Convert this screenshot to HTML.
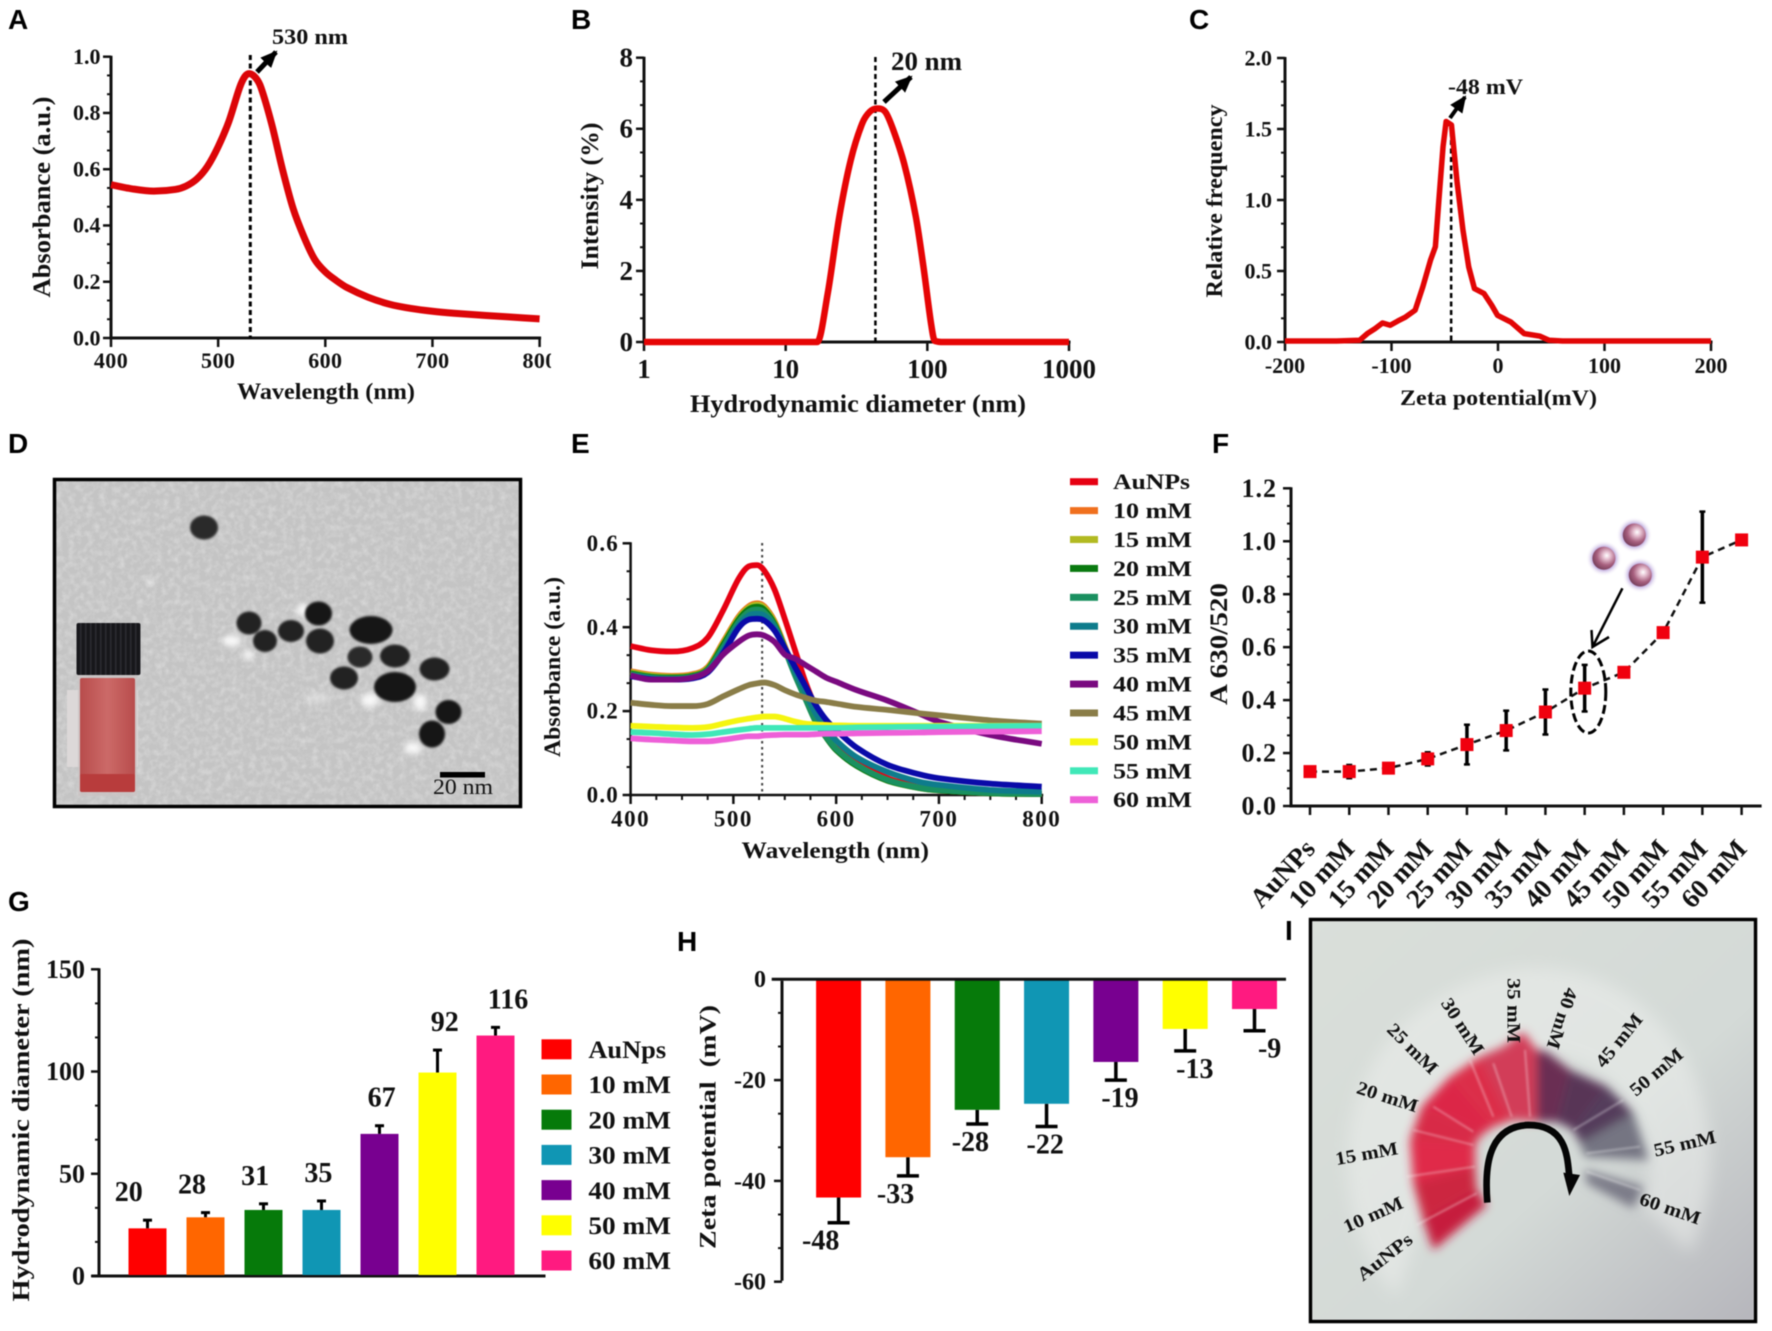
<!DOCTYPE html>
<html lang="en">
<head>
<meta charset="utf-8">
<title>Gold nanoparticle characterisation figure</title>
<style>
html,body{margin:0;padding:0;background:#fff;}
svg{display:block;filter:blur(0.45px);}
text{font-family:"Liberation Serif",serif;font-weight:bold;fill:#111;white-space:pre;}
.pl{font-family:"Liberation Sans",sans-serif;font-size:28px;fill:#000;}
</style>
</head>
<body>
<svg id="fig" xmlns="http://www.w3.org/2000/svg" width="1772" height="1331" viewBox="0 0 1772 1331">
<defs>
<marker id="ah" markerUnits="userSpaceOnUse" markerWidth="17" markerHeight="15" refX="15" refY="7.5" orient="auto"><polygon points="0,0 17,7.5 0,15" fill="#000"/></marker>
<radialGradient id="sph" cx="0.62" cy="0.38" r="0.7"><stop offset="0" stop-color="#fff"/><stop offset="0.22" stop-color="#e8c4d4"/><stop offset="0.6" stop-color="#a8607f"/><stop offset="1" stop-color="#6f3a55"/></radialGradient>
<radialGradient id="halo"><stop offset="0.62" stop-color="#bba6dc"/><stop offset="1" stop-color="#fff" stop-opacity="0"/></radialGradient>
<linearGradient id="photoBg" x1="0" y1="0" x2="1" y2="1"><stop offset="0" stop-color="#dadfda"/><stop offset="0.6" stop-color="#d4dad7"/><stop offset="1" stop-color="#b6b6bc"/></linearGradient>
<linearGradient id="liquid" x1="0" y1="0" x2="1" y2="0"><stop offset="0" stop-color="#b84c4c"/><stop offset="0.5" stop-color="#cc6a68"/><stop offset="1" stop-color="#b84c4c"/></linearGradient>
<pattern id="capRidges" patternUnits="userSpaceOnUse" width="5" height="10"><rect width="5" height="10" fill="#17171b"/><rect width="1.5" height="10" fill="#2c2c32"/></pattern>
<filter id="noise" x="0" y="0" width="100%" height="100%"><feTurbulence type="fractalNoise" baseFrequency="0.16" numOctaves="3" seed="4"/><feColorMatrix values="0 0 0 0 1  0 0 0 0 1  0 0 0 0 1  1.8 0 0 0 -0.7"/></filter>
<filter id="b1"><feGaussianBlur stdDeviation="1"/></filter>
<filter id="b3"><feGaussianBlur stdDeviation="3"/></filter>
<filter id="b14" x="-30%" y="-30%" width="160%" height="160%"><feGaussianBlur stdDeviation="14"/></filter>
<filter id="b24" x="-30%" y="-30%" width="160%" height="160%"><feGaussianBlur stdDeviation="24"/></filter>
<clipPath id="clipA"><rect x="0" y="0" width="551" height="420"/></clipPath>
<clipPath id="clipD"><rect x="55" y="480" width="465" height="326"/></clipPath>
<clipPath id="clipI"><rect x="1311" y="920" width="444" height="401"/></clipPath>
</defs>
<rect width="1772" height="1331" fill="#fff"/>

<text class="pl" x="8" y="29">A</text>
<text class="pl" x="571" y="29">B</text>
<text class="pl" x="1189" y="29">C</text>
<text class="pl" x="8" y="453">D</text>
<text class="pl" x="571" y="453">E</text>
<text class="pl" x="1212" y="453">F</text>
<text class="pl" x="8" y="911">G</text>
<text class="pl" x="677" y="951">H</text>
<text class="pl" x="1285" y="940">I</text>

<!-- Panel A -->
<g id="panelA" clip-path="url(#clipA)"></g>
<text x="237" y="399" font-size="23" textLength="178" lengthAdjust="spacingAndGlyphs">Wavelength (nm)</text>
<text x="50" y="197" font-size="25" text-anchor="middle" textLength="201" lengthAdjust="spacingAndGlyphs" transform="rotate(-90 50 197)">Absorbance (a.u.)</text>
<line x1="257" y1="72" x2="276" y2="52" stroke="#000" stroke-width="5" marker-end="url(#ah)"/>
<text x="272" y="44" font-size="22" textLength="76" lengthAdjust="spacingAndGlyphs">530 nm</text>

<!-- Panel B -->
<g id="panelB"></g>
<text x="690" y="412" font-size="25" textLength="336" lengthAdjust="spacingAndGlyphs">Hydrodynamic diameter (nm)</text>
<text x="598" y="196" font-size="25" text-anchor="middle" textLength="147" lengthAdjust="spacingAndGlyphs" transform="rotate(-90 598 196)">Intensity (%)</text>
<line x1="884" y1="102" x2="911" y2="77" stroke="#000" stroke-width="5" marker-end="url(#ah)"/>
<text x="891" y="70" font-size="26" textLength="71" lengthAdjust="spacingAndGlyphs">20 nm</text>

<!-- Panel C -->
<g id="panelC"></g>
<text x="1400" y="405" font-size="22" textLength="197" lengthAdjust="spacingAndGlyphs">Zeta potential(mV)</text>
<text x="1222" y="201" font-size="23" text-anchor="middle" textLength="193" lengthAdjust="spacingAndGlyphs" transform="rotate(-90 1222 201)">Relative frequency</text>
<line x1="1450" y1="118" x2="1465" y2="97" stroke="#000" stroke-width="4" marker-end="url(#ah)"/>
<text x="1448" y="94" font-size="22" textLength="75" lengthAdjust="spacingAndGlyphs">-48 mV</text>

<!-- Panel D: TEM micrograph -->
<g>
  <rect x="53" y="478" width="469" height="330" fill="#c4c4c4"/>
  <g clip-path="url(#clipD)">
    <rect x="55" y="480" width="465" height="326" filter="url(#noise)" opacity="0.34"/>
    <g fill="#fff" filter="url(#b3)" opacity="0.85">
      <ellipse cx="232" cy="641" rx="9" ry="6"/><ellipse cx="303" cy="610" rx="7" ry="6"/><ellipse cx="370" cy="700" rx="9" ry="7"/><ellipse cx="420" cy="702" rx="7" ry="8"/><ellipse cx="413" cy="748" rx="9" ry="6"/><ellipse cx="248" cy="655" rx="5" ry="5"/><ellipse cx="150" cy="582" rx="3" ry="3"/><ellipse cx="318" cy="698" rx="14" ry="5" opacity="0.4"/>
    </g>
    <g fill="#151515" filter="url(#b1)">
      <ellipse cx="204" cy="527.5" rx="14" ry="12" fill="#2b2b2b"/>
      <ellipse cx="249" cy="623" rx="12.5" ry="11.5" fill="#222"/>
      <ellipse cx="265" cy="641" rx="12" ry="11" fill="#222"/>
      <ellipse cx="291" cy="631" rx="13" ry="11" fill="#222"/>
      <ellipse cx="318.5" cy="613.5" rx="13.5" ry="12"/>
      <ellipse cx="320" cy="641" rx="14" ry="12.5" fill="#222"/>
      <ellipse cx="371" cy="630" rx="21.5" ry="14"/>
      <ellipse cx="360" cy="657" rx="12.5" ry="10.5" fill="#2a2a2a"/>
      <ellipse cx="395" cy="656" rx="15" ry="11.5" fill="#222"/>
      <ellipse cx="344" cy="678" rx="14" ry="11.5" fill="#222"/>
      <ellipse cx="434.5" cy="669" rx="15" ry="11.5" fill="#222"/>
      <ellipse cx="395" cy="687" rx="21" ry="15"/>
      <ellipse cx="448.5" cy="712" rx="13" ry="12"/>
      <ellipse cx="432" cy="734" rx="13" ry="13.5"/>
    </g>
    <g>
      <rect x="67" y="690" width="71" height="77" fill="#dcd8d8"/>
      <rect x="78" y="672" width="59" height="124" fill="#c9c2c2" opacity="0.75"/>
      <rect x="80" y="678" width="55" height="114" rx="2" fill="url(#liquid)"/>
      <rect x="80" y="774" width="55" height="18" rx="2" fill="#b83c3c"/>
      <rect x="76.500" y="623" width="64" height="52" rx="2" fill="url(#capRidges)"/>
    </g>
    <rect x="440" y="772" width="45" height="5.500" fill="#000"/>
    <text x="433" y="794" font-size="22" style="font-weight:normal" textLength="60" lengthAdjust="spacingAndGlyphs">20 nm</text>
  </g>
  <rect x="54.500" y="479.500" width="466" height="327" fill="none" stroke="#000" stroke-width="3.500"/>
</g>

<!-- Panel E -->
<g id="panelE"></g>
<text x="741.500" y="858" font-size="23" textLength="187.500" lengthAdjust="spacingAndGlyphs">Wavelength (nm)</text>
<text x="560" y="667" font-size="23" text-anchor="middle" textLength="180" lengthAdjust="spacingAndGlyphs" transform="rotate(-90 560 667)">Absorbance (a.u.)</text>

<!-- Panel F -->
<g id="panelF"></g>
<text x="1227" y="644" font-size="25" text-anchor="middle" textLength="122" lengthAdjust="spacingAndGlyphs" transform="rotate(-90 1227 644)">A 630/520</text>
<g>
  <circle cx="1634.3" cy="535" r="18" fill="url(#halo)"/><circle cx="1603.9" cy="558.3" r="18" fill="url(#halo)"/><circle cx="1640.3" cy="575" r="18" fill="url(#halo)"/>
  <circle cx="1634.3" cy="535" r="11.500" fill="url(#sph)"/><circle cx="1603.9" cy="558.3" r="11.500" fill="url(#sph)"/><circle cx="1640.3" cy="575" r="11.500" fill="url(#sph)"/>
</g>
<ellipse cx="1588.300" cy="692" rx="17.500" ry="41" fill="none" stroke="#000" stroke-width="3" stroke-dasharray="9 4"/>
<g fill="none" stroke="#000" stroke-width="2.500">
  <line x1="1622.400" y1="588.300" x2="1592.500" y2="647"/><polyline points="1591.500,630 1592.500,647 1609,637"/>
</g>

<!-- Panel G -->
<g id="panelG"></g>
<text x="29" y="1120" font-size="24" text-anchor="middle" textLength="363" lengthAdjust="spacingAndGlyphs" transform="rotate(-90 29 1120)">Hydrodynamic diameter (nm)</text>

<!-- Panel H -->
<g id="panelH"></g>
<text x="715.500" y="1127" font-size="23" text-anchor="middle" textLength="244" lengthAdjust="spacingAndGlyphs" transform="rotate(-90 715.5 1127)">Zeta potential  (mV)</text>

<!-- Panel I: photograph of tube fan -->
<g>
  <rect x="1311" y="920" width="444" height="401" fill="url(#photoBg)"/>
  <g clip-path="url(#clipI)">
    <g transform="translate(1290 900) scale(0.33333)">
      <path d="M320,1190 C100,950 120,500 420,310 C640,160 900,170 1080,340 C1290,540 1300,830 1200,1060 L1060,920 C1120,700 1000,470 730,460 C520,470 380,660 420,880 Z" fill="#eef0ee" opacity="0.5" filter="url(#b24)"/>
      <g filter="url(#b14)">
        <polygon points="430,1050 400,960 560,870 590,915" fill="#c61f3c"/>
        <polygon points="400,960 370,850 555,800 560,870" fill="#cc2640"/>
        <polygon points="370,850 360,720 555,730 555,800" fill="#e02c48"/>
        <polygon points="360,720 395,620 580,700 555,730" fill="#d82c46"/>
        <polygon points="395,620 480,530 610,680 580,700" fill="#dc2846"/>
        <polygon points="480,530 570,470 665,660 610,680" fill="#dc2e48"/>
        <polygon points="570,470 640,440 700,395 740,450 740,665 665,660" fill="#d23e58"/>
        <polygon points="740,450 770,455 840,510 800,665 740,665" fill="#6a2f52"/>
        <polygon points="840,510 950,560 850,690 800,665" fill="#583456"/>
        <polygon points="950,560 1030,640 870,730 850,690" fill="#553d5c"/>
        <polygon points="1030,640 1075,780 885,770 870,730" fill="#747482"/>
        <polygon points="1030,925 890,850 885,810 1060,860" fill="#7c7c88"/>
      </g>
      <g stroke="#fff" stroke-width="5" opacity="0.4" filter="url(#b3)">
        <line x1="380" y1="975" x2="560" y2="880"/><line x1="350" y1="830" x2="555" y2="800"/><line x1="370" y1="690" x2="550" y2="735"/><line x1="430" y1="620" x2="550" y2="695"/><line x1="540" y1="480" x2="610" y2="650"/><line x1="610" y1="490" x2="665" y2="650"/><line x1="705" y1="450" x2="720" y2="650"/><line x1="1000" y1="600" x2="850" y2="690"/><line x1="1050" y1="740" x2="890" y2="760"/><line x1="890" y1="815" x2="1050" y2="870"/>
      </g>
      <path d="M592,908 C585,820 585,680 715,675 C830,675 832,770 838,830" fill="none" stroke="#050505" stroke-width="20"/>
      <polygon points="820,818 870,825 838,888" fill="#050505"/>
      <g font-size="56">
        <text x="285" y="1072" dy="17" text-anchor="middle" transform="rotate(-38 285 1072)" textLength="195" lengthAdjust="spacingAndGlyphs">AuNPs</text>
        <text x="250" y="945" dy="17" text-anchor="middle" transform="rotate(-24 250 945)" textLength="190" lengthAdjust="spacingAndGlyphs">10 mM</text>
        <text x="230" y="762" dy="17" text-anchor="middle" transform="rotate(-10 230 762)" textLength="190" lengthAdjust="spacingAndGlyphs">15 mM</text>
        <text x="292" y="592" dy="17" text-anchor="middle" transform="rotate(18 292 592)" textLength="190" lengthAdjust="spacingAndGlyphs">20 mM</text>
        <text x="367" y="447" dy="17" text-anchor="middle" transform="rotate(45 367 447)" textLength="190" lengthAdjust="spacingAndGlyphs">25 mM</text>
        <text x="517" y="380" dy="17" text-anchor="middle" transform="rotate(57 517 380)" textLength="190" lengthAdjust="spacingAndGlyphs">30 mM</text>
        <text x="670" y="332" dy="17" text-anchor="middle" transform="rotate(90 670 332)" textLength="195" lengthAdjust="spacingAndGlyphs">35 mM</text>
        <text x="815" y="355" dy="17" text-anchor="middle" transform="rotate(108 815 355)" textLength="190" lengthAdjust="spacingAndGlyphs">40 mM</text>
        <text x="988" y="422" dy="17" text-anchor="middle" transform="rotate(-51 988 422)" textLength="190" lengthAdjust="spacingAndGlyphs">45 mM</text>
        <text x="1100" y="517" dy="17" text-anchor="middle" transform="rotate(-40 1100 517)" textLength="190" lengthAdjust="spacingAndGlyphs">50 mM</text>
        <text x="1185" y="732" dy="17" text-anchor="middle" transform="rotate(-13 1185 732)" textLength="190" lengthAdjust="spacingAndGlyphs">55 mM</text>
        <text x="1140" y="927" dy="17" text-anchor="middle" transform="rotate(19 1140 927)" textLength="190" lengthAdjust="spacingAndGlyphs">60 mM</text>
      </g>
    </g>
  </g>
  <rect x="1312" y="921" width="442" height="399" fill="none" stroke="#fff" stroke-width="1.500" opacity="0.7"/>
  <rect x="1310.500" y="919.500" width="445" height="402" fill="none" stroke="#000" stroke-width="3.500"/>
</g>
</svg>

<script>
/* ---------- Panel A data ---------- */
const aWavelengths = [400,420,440,460,470,480,490,500,510,520,525,529,535,540,550,560,570,580,590,600,610,620,640,660,680,700,720,750,800];
const aAbsorbance = [.545,.53,.522,.528,.54,.565,.61,.68,.77,.89,.93,.94,.925,.89,.76,.60,.46,.36,.28,.235,.205,.18,.145,.12,.105,.095,.088,.08,.068];
const aXTicks = [400,500,600,700,800];
const aYTicks = [0,.2,.4,.6,.8,1];
const aYLabels = ['0.0','0.2','0.4','0.6','0.8','1.0'];
const aPeak = [530];

/* ---------- Panel B data ---------- */
const bDiameter = [1,10,16.7,19.8,23.9,28.8,34.7,39.3,44.5,50.4,57.1,68.8,83,94,106.4,113,130,1000];
const bIntensity = [0,0,0,1.36,3.52,5.12,6.15,6.48,6.57,6.48,6,5,3.52,2.1,.5,.03,0,0];
const bXTicks = [1,10,100,1000];
const bYTicks = [0,2,4,6,8];
const bPeak = [43];

/* ---------- Panel C data ---------- */
const cPotential = [-200,-151.5,-130,-122.7,-115.5,-108.4,-101.2,-94,-86.8,-77.8,-70.6,-63.4,-58.8,-55.5,-51.6,-48.7,-43.7,-38.3,-32.9,-27.5,-22.1,-13.1,-5.9,-.5,12,24.6,39,48,60.5,200];
const cFrequency = [.007,.007,.012,.059,.094,.134,.118,.148,.176,.224,.388,.576,.671,1,1.376,1.553,1.529,1.118,.788,.529,.376,.341,.259,.188,.141,.059,.042,.012,.007,.007];
const cXTicks = [-200,-100,0,100,200];
const cYTicks = [0,.5,1,1.5,2];
const cYLabels = ['0.0','0.5','1.0','1.5','2.0'];
const cPeak = [-44];

/* ---------- Panel E data ---------- */
const eWavelengths = [400,420,440,460,475,490,505,515,523,530,540,550,560,570,580,590,600,620,650,680,700,750,800];
const eAuNPs = [.355,.345,.342,.35,.375,.44,.515,.545,.548,.535,.49,.42,.345,.27,.21,.165,.13,.08,.04,.02,.012,.005,.003];
const e10mM = [.295,.287,.284,.288,.305,.365,.425,.45,.457,.45,.415,.355,.29,.235,.18,.142,.11,.072,.036,.018,.012,.005,.002];
const e15mM = [.293,.285,.282,.286,.303,.362,.422,.447,.454,.447,.412,.352,.288,.232,.177,.14,.108,.07,.034,.017,.011,.004,.002];
const e20mM = [.29,.282,.28,.284,.3,.358,.418,.443,.449,.442,.408,.35,.286,.23,.175,.138,.107,.069,.034,.017,.011,.004,.002];
const e25mM = [.288,.28,.278,.282,.298,.352,.412,.437,.442,.436,.404,.347,.285,.23,.176,.14,.11,.072,.036,.018,.012,.005,.003];
const e30mM = [.285,.278,.276,.28,.295,.345,.405,.428,.432,.428,.4,.35,.295,.245,.195,.16,.13,.09,.055,.032,.024,.012,.008];
const e35mM = [.283,.276,.275,.278,.292,.338,.398,.418,.42,.416,.392,.35,.305,.26,.215,.18,.155,.113,.072,.05,.04,.027,.02];
const e40mM = [.285,.275,.275,.28,.295,.335,.365,.38,.383,.38,.365,.335,.325,.31,.295,.28,.27,.25,.225,.195,.175,.143,.122];
const e45mM = [.22,.215,.212,.212,.217,.235,.252,.262,.266,.268,.262,.25,.24,.232,.225,.222,.218,.21,.203,.195,.19,.178,.17];
const e50mM = [.165,.163,.161,.16,.162,.17,.178,.182,.185,.187,.187,.182,.175,.17,.168,.167,.166,.165,.165,.165,.165,.165,.165];
const e55mM = [.15,.148,.145,.143,.145,.15,.155,.158,.16,.16,.16,.16,.16,.16,.16,.16,.16,.161,.162,.163,.163,.164,.165];
const e60mM = [.135,.132,.13,.128,.128,.132,.137,.14,.14,.142,.143,.144,.144,.144,.145,.146,.146,.147,.148,.149,.15,.151,.152];
const eSeriesNames = ['AuNPs','10 mM','15 mM','20 mM','25 mM','30 mM','35 mM','40 mM','45 mM','50 mM','55 mM','60 mM'];
const eSeriesColors = ['#e60012','#f0701e','#b2ba22','#0a7a10','#1a9060','#0e7c8c','#0a0aa8','#7a0a80','#8a7d48','#f5f510','#40e8b8','#ee60d8'];
const eXTicks = [400,500,600,700,800];
const eYTicks = [0,.2,.4,.6];
const eYLabels = ['0.0','0.2','0.4','0.6'];
const ePeak = [528];

/* ---------- Panel F data ---------- */
const fCategories = ['AuNPs','10 mM','15 mM','20 mM','25 mM','30 mM','35 mM','40 mM','45 mM','50 mM','55 mM','60 mM'];
const fRatio = [.13,.13,.143,.178,.232,.285,.355,.445,.505,.655,.94,1.005];
const fError = [0,.025,0,.025,.075,.075,.085,.088,0,0,.172,0];
const fYTicks = [0,.2,.4,.6,.8,1,1.2];
const fYLabels = ['0.0','0.2','0.4','0.6','0.8','1.0','1.2'];

/* ---------- Panel G data ---------- */
const gCategories = ['AuNps','10 mM','20 mM','30 mM','40 mM','50 mM','60 mM'];
const gDiameter = [23.3,28.7,32.3,32.3,69.5,99.5,117.6];
const gError = [4,2.3,3,4.4,4,11,4];
const gPrinted = ['20','28','31','35','67','92','116'];
const gYTicks = [0,50,100,150];

/* ---------- Panel H data ---------- */
const hZeta = [-43.3,-35.3,-25.9,-24.7,-16.4,-9.85,-5.9];
const hError = [5,3.7,2.8,4.5,3.6,4.35,4.3];
const hPrinted = ['-48','-33','-28','-22','-19','-13','-9'];
const hYTicks = [0,-20,-40,-60];

const barColors = ['#ff0000','#ff6600','#067a0a','#1096b4','#780090','#ffff00','#ff1a80'];

/* ---------- helpers ---------- */
const NS = 'http://www.w3.org/2000/svg';
function mk(parent, tag, attrs, name) {
  const el = document.createElementNS(NS, tag);
  for (const k in attrs) el.setAttribute(k, attrs[k]);
  
  
  parent.appendChild(el);
  return el;
}
function label(parent, x, y, str, size, anchor, name, spacing) {
  const el = mk(parent, 'text', {x: x, y: y, 'font-size': size, 'text-anchor': anchor}, name);
  if (spacing) el.setAttribute('letter-spacing', spacing);
  el.textContent = str;
  return el;
}
const linear = (d0, d1, r0, r1) => v => r0 + (v - d0) * (r1 - r0) / (d1 - d0);
const logScale = (d0, d1, r0, r1) => v => r0 + (Math.log10(v) - Math.log10(d0)) * (r1 - r0) / (Math.log10(d1) - Math.log10(d0));

function yAxis(g, sy, ticks, labels, o) {
  const a = sy(ticks[0]), b = sy(ticks[ticks.length - 1]);
  mk(g, 'line', {x1: o.x, x2: o.x, y1: a + 1.5, y2: b - 1, stroke: '#111', 'stroke-width': o.w || 3}, 'y-axis-line');
  ticks.forEach((t, i) => {
    const y = sy(t);
    mk(g, 'line', {x1: o.x - (o.len || 8), x2: o.x, y1: y, y2: y, stroke: '#111', 'stroke-width': 2.5}, 'y-major-tick');
    label(g, o.right, y + o.size * 0.33, labels[i], o.size, 'end', 'y-tick-label', o.spacing);
    if (i < ticks.length - 1) {
      const y2 = sy(ticks[i + 1]);
      for (let k = 1; k <= 2; k++) {
        const ym = y + (y2 - y) * k / 3;
        mk(g, 'line', {x1: o.x - 4, x2: o.x, y1: ym, y2: ym, stroke: '#111', 'stroke-width': 2}, 'y-minor-tick');
      }
    }
  });
}
function xAxis(g, sx, ticks, labels, o) {
  const last = ticks.length - 1;
  mk(g, 'line', {x1: sx(ticks[0]) - 1.5, x2: sx(ticks[last]) + 1.5, y1: o.y, y2: o.y, stroke: '#111', 'stroke-width': o.w || 3}, 'x-axis-line');
  ticks.forEach((t, i) => {
    const x = sx(t);
    mk(g, 'line', {x1: x, x2: x, y1: o.y, y2: o.y + (o.len || 9), stroke: '#111', 'stroke-width': 2.5}, 'x-major-tick');
    label(g, x, o.base, labels[i], o.size, 'middle', 'x-tick-label', o.spacing);
    if (o.minors && i < last) {
      const x2 = sx(ticks[i + 1]);
      for (let k = 1; k < o.minors; k++) {
        const xm = x + (x2 - x) * k / o.minors;
        mk(g, 'line', {x1: xm, x2: xm, y1: o.y, y2: o.y + 5, stroke: '#111', 'stroke-width': 2}, 'x-minor-tick');
      }
    }
  });
}
/* smooth cubic path through screen points, no overshoot at local extrema */
function smooth(pts) {
  const n = pts.length, d = [], m = [];
  for (let i = 0; i < n - 1; i++) d.push((pts[i + 1][1] - pts[i][1]) / (pts[i + 1][0] - pts[i][0]));
  m[0] = d[0];
  m[n - 1] = d[n - 2];
  for (let i = 1; i < n - 1; i++) {
    if (d[i - 1] * d[i] <= 0) { m[i] = 0; continue; }
    const c = (pts[i + 1][1] - pts[i - 1][1]) / (pts[i + 1][0] - pts[i - 1][0]);
    const lim = 3 * Math.min(Math.abs(d[i - 1]), Math.abs(d[i]));
    m[i] = Math.sign(c) * Math.min(Math.abs(c), lim);
  }
  let s = 'M' + pts[0][0].toFixed(2) + ',' + pts[0][1].toFixed(2);
  for (let i = 0; i < n - 1; i++) {
    const h = (pts[i + 1][0] - pts[i][0]) / 3;
    s += 'C' + (pts[i][0] + h).toFixed(2) + ',' + (pts[i][1] + m[i] * h).toFixed(2) + ' ' +
         (pts[i + 1][0] - h).toFixed(2) + ',' + (pts[i + 1][1] - m[i + 1] * h).toFixed(2) + ' ' +
         pts[i + 1][0].toFixed(2) + ',' + pts[i + 1][1].toFixed(2);
  }
  return s;
}
const poly = pts => 'M' + pts.map(p => p[0].toFixed(2) + ',' + p[1].toFixed(2)).join('L');
const zip = (xs, ys, sx, sy) => xs.map((x, i) => [sx(x), sy(ys[i])]);
function peakLine(g, x, y1, y2, w, dash, col) {
  mk(g, 'line', {x1: x, x2: x, y1: y1, y2: y2, stroke: col, 'stroke-width': w, 'stroke-dasharray': dash}, 'peak-reference-line');
}

/* ---------- Panel A ---------- */
(function () {
  const g = document.getElementById('panelA');
  const sx = linear(400, 800, 111, 539.6), sy = linear(0, 1, 338, 56.7);
  yAxis(g, sy, aYTicks, aYLabels, {x: 111, right: 100.5, size: 22});
  xAxis(g, sx, aXTicks, aXTicks.map(String), {y: 338, base: 368, size: 22, spacing: 0.4});
  peakLine(g, sx(aPeak[0]), 55, 338, 3, '5 3.5', '#000');
  mk(g, 'path', {d: smooth(zip(aWavelengths, aAbsorbance, sx, sy)), fill: 'none', stroke: '#dc0508', 'stroke-width': 7}, 'absorbance-curve');
})();

/* ---------- Panel B ---------- */
(function () {
  const g = document.getElementById('panelB');
  const sx = logScale(1, 1000, 644, 1069), sy = linear(0, 8, 342, 57.7);
  yAxis(g, sy, bYTicks, bYTicks.map(String), {x: 644, right: 633, size: 27});
  xAxis(g, sx, bXTicks, bXTicks.map(String), {y: 342, base: 378, size: 27});
  peakLine(g, sx(bPeak[0]), 57, 342, 2.5, '5 3.5', '#000');
  mk(g, 'path', {d: smooth(zip(bDiameter, bIntensity, sx, sy)), fill: 'none', stroke: '#e60505', 'stroke-width': 6.5}, 'intensity-curve');
})();

/* ---------- Panel C ---------- */
(function () {
  const g = document.getElementById('panelC');
  const sx = linear(-200, 200, 1285, 1711), sy = linear(0, 2, 342, 58);
  yAxis(g, sy, cYTicks, cYLabels, {x: 1285, right: 1272, size: 22});
  xAxis(g, sx, cXTicks, cXTicks.map(String), {y: 342, base: 373, size: 22});
  peakLine(g, sx(cPeak[0]), 123, 342, 2.5, '5 3.5', '#000');
  mk(g, 'path', {d: poly(zip(cPotential, cFrequency, sx, sy)), fill: 'none', stroke: '#e20606', 'stroke-width': 5.5, 'stroke-linejoin': 'round'}, 'zeta-curve');
})();

/* ---------- Panel E ---------- */
(function () {
  const g = document.getElementById('panelE');
  const sx = linear(400, 800, 630.6, 1041.7), sy = linear(0, .6, 795, 543.3);
  const series = [eAuNPs, e10mM, e15mM, e20mM, e25mM, e30mM, e35mM, e40mM, e45mM, e50mM, e55mM, e60mM];
  yAxis(g, sy, eYTicks, eYLabels, {x: 630.6, right: 619, size: 23, spacing: 1.2, w: 2.5});
  xAxis(g, sx, eXTicks, eXTicks.map(String), {y: 795, base: 826.7, size: 23, spacing: 1.5, minors: 4, w: 2.5});
  peakLine(g, sx(ePeak[0]), 543, 795, 2, '2.5 3.5', '#444');
  series.forEach((s, i) => {
    const p = mk(g, 'path', {d: smooth(zip(eWavelengths, s, sx, sy)), fill: 'none', stroke: eSeriesColors[i], 'stroke-width': 5.8}, 'spectrum-curve');
    p.setAttribute('data-series', eSeriesNames[i]);
  });
  const legY = linear(0, 11, 481.7, 799.7);
  eSeriesNames.forEach((n, i) => {
    const y = legY(i);
    mk(g, 'rect', {x: 1070, y: y - 3.5, width: 28, height: 7, fill: eSeriesColors[i]}, 'legend-swatch');
    const t = label(g, 1113, y + 7.5, n, 22, 'start', 'legend-entry');
    t.setAttribute('textLength', i === 0 ? 77 : 79);
    t.setAttribute('lengthAdjust', 'spacingAndGlyphs');
  });
})();

/* ---------- Panel F ---------- */
(function () {
  const g = document.getElementById('panelF');
  const sx = linear(0, 11, 1310, 1741.6), sy = linear(0, 1.2, 806, 488.3);
  yAxis(g, sy, fYTicks, fYLabels, {x: 1291, right: 1277, size: 26, spacing: 1});
  mk(g, 'line', {x1: 1289.5, x2: 1761.6, y1: 806, y2: 806, stroke: '#111', 'stroke-width': 3}, 'x-axis-line');
  const pts = fRatio.map((v, i) => [sx(i), sy(v)]);
  mk(g, 'path', {d: poly(pts), fill: 'none', stroke: '#111', 'stroke-width': 2.5, 'stroke-dasharray': '7 5'}, 'trend-dashed-line');
  fCategories.forEach((c, i) => {
    const x = sx(i);
    mk(g, 'line', {x1: x, x2: x, y1: 806, y2: 815, stroke: '#111', 'stroke-width': 2.5}, 'x-major-tick');
    const t = label(g, x + 6.5, 850, c, 27, 'end', 'x-tick-label');
    t.setAttribute('transform', 'rotate(-47 ' + (x + 6.5) + ' 850)');
    if (fError[i] > 0) {
      mk(g, 'line', {x1: x, x2: x, y1: sy(fRatio[i] + fError[i]), y2: sy(fRatio[i] - fError[i]), stroke: '#000', 'stroke-width': 3.5}, 'error-bar');
      mk(g, 'line', {x1: x - 3, x2: x + 3, y1: sy(fRatio[i] + fError[i]), y2: sy(fRatio[i] + fError[i]), stroke: '#000', 'stroke-width': 2.5}, 'error-cap-top');
      mk(g, 'line', {x1: x - 3, x2: x + 3, y1: sy(fRatio[i] - fError[i]), y2: sy(fRatio[i] - fError[i]), stroke: '#000', 'stroke-width': 2.5}, 'error-cap-bottom');
    }
    mk(g, 'rect', {x: x - 6.5, y: sy(fRatio[i]) - 6.5, width: 13, height: 13, fill: '#f0000e'}, 'ratio-point');
  });
})();

/* ---------- Panel G ---------- */
(function () {
  const g = document.getElementById('panelG');
  const sx = linear(0, 6, 147.5, 495.5), sy = linear(0, 150, 1276, 969.3);
  yAxis(g, sy, gYTicks, gYTicks.map(String), {x: 99, right: 85, size: 26});
  mk(g, 'line', {x1: 91.5, x2: 545.5, y1: 1276, y2: 1276, stroke: '#111', 'stroke-width': 3}, 'x-axis-line');
  gDiameter.forEach((v, i) => {
    const x = sx(i);
    mk(g, 'line', {x1: x, x2: x, y1: sy(v), y2: sy(v + gError[i]), stroke: '#000', 'stroke-width': 3}, 'error-bar');
    mk(g, 'line', {x1: x - 4.5, x2: x + 4.5, y1: sy(v + gError[i]), y2: sy(v + gError[i]), stroke: '#000', 'stroke-width': 3}, 'error-cap');
    mk(g, 'rect', {x: x - 19, y: sy(v), width: 38, height: sy(0) - sy(v) - 1, fill: barColors[i]}, 'bar-' + gCategories[i].toLowerCase().replace(' ', '-'));
    label(g, x + (i - 3.6) * 5.2, sy(v + gError[i]) - 19, gPrinted[i], 28, 'middle', 'bar-value-label');
    const ly = 1049.3 + i * 35.2;
    mk(g, 'rect', {x: 541.5, y: ly - 10, width: 30, height: 20, fill: barColors[i]}, 'legend-swatch');
    const t = label(g, 588.4, ly + 8.7, gCategories[i], 25, 'start', 'legend-entry');
    t.setAttribute('textLength', i === 0 ? 77.7 : 82.6);
    t.setAttribute('lengthAdjust', 'spacingAndGlyphs');
  });
})();

/* ---------- Panel H ---------- */
(function () {
  const g = document.getElementById('panelH');
  const sx = linear(0, 6, 838.6, 1254.5), sy = linear(0, -60, 979.3, 1281.7);
  yAxis(g, sy, hYTicks, hYTicks.map(String), {x: 782, right: 766, size: 24});
  hZeta.forEach((v, i) => {
    const x = sx(i);
    const end = v - hError[i];
    mk(g, 'line', {x1: x, x2: x, y1: sy(v), y2: sy(end), stroke: '#000', 'stroke-width': 3.5}, 'error-bar');
    mk(g, 'line', {x1: x - 11, x2: x + 11, y1: sy(end), y2: sy(end), stroke: '#000', 'stroke-width': 3.5}, 'error-cap');
    mk(g, 'rect', {x: x - 22.5, y: 979.3, width: 45, height: sy(v) - 979.3, fill: barColors[i]}, 'bar-zeta-' + i);
    label(g, x + (i - 3.25) * 5.5, sy(end) + 27, hPrinted[i], 28, 'middle', 'bar-value-label');
  });
  mk(g, 'line', {x1: 771.7, x2: 1286, y1: 979.3, y2: 979.3, stroke: '#111', 'stroke-width': 3}, 'zero-axis-line');
})();
</script>
</body>
</html>
